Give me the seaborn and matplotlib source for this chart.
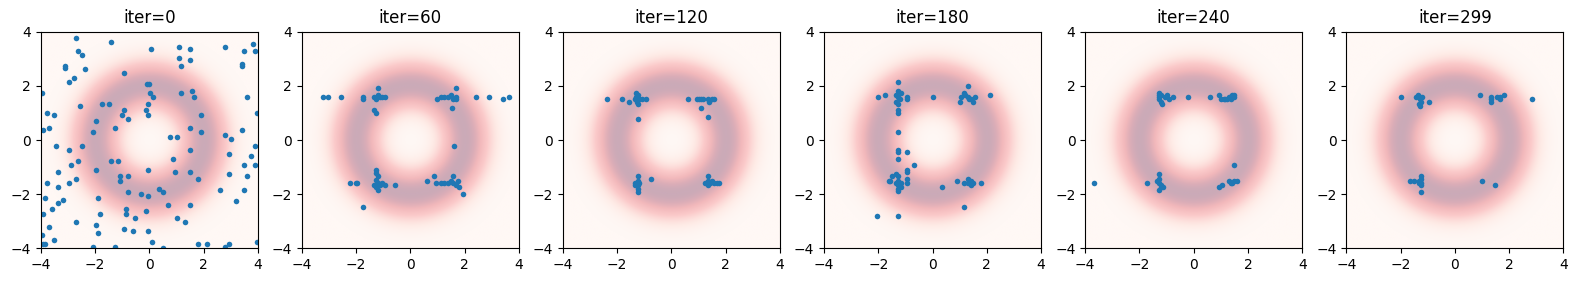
import matplotlib
matplotlib.use("Agg")
import matplotlib.pyplot as plt
from matplotlib.colors import LinearSegmentedColormap
import seaborn as sns
import numpy as np
import pandas as pd

# particle positions
iters = [0, 60, 120, 180, 240, 299]

x_0 = [-2.70, -1.41, 0.06, -2.62, -2.46, -3.10, -3.10, -2.38, -2.78, -2.94,
       -0.93, -3.94, -0.09, -0.02, 0.04, 0.13, -1.73, -1.49, -0.04, -2.55,
       -3.77, -3.52, -0.93, -1.00, -0.12, -0.03, -0.77, -1.97, -3.68, -3.92,
       -1.25, -2.06, -3.45, -2.46, -2.94, -2.87, -2.62, -1.41, -1.16, -3.35,
       -1.98, -1.09, -1.09, -0.77, -0.03, -3.75, -2.94, -2.70, -3.35, -0.77,
       -0.29, -0.04, -3.83, -1.90, -3.35, -3.19, -3.59, -1.81, -0.85, -0.85,
       -0.13, -0.52, -3.93, -3.68, -2.71, -1.97, -1.90, -0.93, -0.61, -0.03,
       -3.51, -3.96, -3.90, -3.83, -2.06, -1.25, 0.12, 0.52, 0.36, 0.52,
       0.69, 1.01, 1.33, 1.81, 2.14, 2.78, 2.95, 3.97, 2.62, 3.18,
       3.51, 1.49, 1.49, 1.81, 0.94, 0.87, 1.49, 2.95, 2.95, 3.59,
       3.51, 3.75, 3.91, 3.91, 0.77, 1.01, 1.49, 1.90, 2.78, 3.03,
       3.43, 1.90, 3.99, 3.59, 1.58, 1.65, 1.17, 1.17, 1.09, 1.49,
       1.09, 1.49, 2.78, 3.43, 3.43, 3.51, 3.84, 3.91]
y_0 = [3.78, 3.62, 3.36, 3.29, 3.13, 2.72, 2.65, 2.63, 2.30, 2.15,
       2.47, 1.75, 2.07, 2.07, 1.75, 1.58, 1.34, 1.34, 1.34, 1.24,
       1.01, 0.92, 1.10, 0.94, 1.10, 0.92, 0.78, 0.69, 0.46, 0.36,
       0.46, 0.28, -0.21, -0.21, -0.37, -0.94, -0.78, -0.78, -0.78, -1.18,
       -1.10, -1.33, -1.50, -1.34, -1.10, -1.59, -1.59, -1.43, -1.75, -1.92,
       -1.99, -2.07, -2.15, -2.15, -2.31, -2.23, -2.56, -2.72, -2.56, -2.72,
       -2.63, -2.88, -2.72, -3.20, -3.04, -3.13, -3.45, -3.29, -3.36, -3.36,
       -3.68, -3.52, -3.85, -3.85, -3.94, -3.94, -3.77, -4.00, -1.82, -1.91,
       -2.39, -2.88, -3.04, -3.85, -3.85, -3.94, -3.85, -3.77, -1.83, -2.24,
       -1.83, -2.39, -1.18, -1.43, -1.18, -0.70, -0.37, -0.53, -1.26, -1.34,
       -0.94, -0.60, -0.21, -0.94, 0.11, 0.11, 0.46, 0.28, 0.20, 0.04,
       0.37, 0.92, 1.01, 1.58, 1.82, 1.58, 1.75, 2.72, 3.04, 2.95,
       3.45, 3.36, 3.45, 2.79, 2.72, 3.29, 3.53, 3.29]

x_60 = [-3.21, -3.02, -2.56, -1.73, -1.73, -1.35, -1.27, -1.20, -1.12, -1.04,
        -0.95, -1.20, -1.35, -1.27, 1.00, 1.12, 1.25, 1.37, 1.49, 1.56,
        1.68, 1.68, 1.68, 1.52, 2.42, 2.91, 3.41, 3.63, 1.62, -2.23,
        -2.02, -1.96, -1.73, -1.25, -1.25, -1.20, -1.28, -1.20, -1.35, -1.12,
        -1.04, -0.95, -1.20, -1.27, -0.58, 0.63, 0.88, 0.96, 1.12, 1.25,
        1.37, 1.49, 1.59, 1.59, 1.68, 1.74, 1.80, 1.93]
y_60 = [1.58, 1.58, 1.58, 1.58, 1.50, 1.58, 1.50, 1.66, 1.58, 1.58,
        1.58, 1.91, 1.10, 1.01, 1.50, 1.58, 1.58, 1.58, 1.66, 1.50,
        1.91, 1.58, 1.50, 1.17, 1.58, 1.58, 1.50, 1.58, -0.21, -1.59,
        -1.59, -1.59, -2.49, -1.10, -1.22, -1.34, -1.47, -1.57, -1.65, -1.65,
        -1.57, -1.65, -1.84, -1.75, -1.67, -1.50, -1.34, -1.59, -1.59, -1.59,
        -1.59, -1.50, -1.34, -1.59, -1.67, -1.50, -1.75, -1.99]

x_120 = [-2.38, -1.83, -1.58, -1.30, -1.30, -1.28, -1.25, -1.34, -1.18, -1.09,
         -0.93, -1.25, -1.25, 0.61, 0.93, 1.02, 1.09, 1.18, 1.33, 1.40,
         1.48, 1.57, 1.09, 1.34, -1.25, -1.25, -1.34, -1.25, -1.18, -1.25,
         -1.25, -0.76, -1.34, 1.34, 1.34, 1.25, 1.42, 1.48, 1.34, 1.57,
         1.77, 1.67]
y_120 = [1.50, 1.50, 1.42, 1.75, 1.58, 1.42, 1.66, 1.50, 1.50, 1.50,
         1.50, 1.34, 0.78, 1.50, 1.50, 1.50, 1.50, 1.50, 1.50, 1.42,
         1.50, 1.50, 1.17, 0.85, -1.34, -1.50, -1.59, -1.67, -1.59, -1.82,
         -1.92, -1.43, -1.67, -1.34, -1.50, -1.59, -1.59, -1.50, -1.67, -1.59,
         -1.59, -1.59]

x_180 = [-2.00, -1.76, -1.27, -1.27, -1.33, -1.27, -1.21, -1.33, -1.27, -1.18,
         -1.27, -1.27, -0.96, -0.96, 0.02, 1.00, 1.06, 1.15, 1.18, 1.32,
         1.32, 1.40, 1.49, 1.55, 1.34, 2.13, -1.27, -1.27, -1.27, -1.27,
         -0.95, -0.70, -0.95, -0.95, -1.50, -1.58, -1.60, -1.35, -1.27, -1.27,
         -1.35, -1.27, -1.18, -1.27, -1.27, -1.18, -0.95, -0.95, -2.06, -1.27,
         0.35, 0.91, 1.15, 1.32, 1.32, 1.40, 1.40, 1.49, 1.80, 1.16]
y_180 = [1.58, 1.66, 2.15, 1.82, 1.66, 1.58, 1.50, 1.42, 1.34, 1.75,
         1.10, 1.01, 1.58, 1.50, 1.58, 1.42, 1.58, 1.75, 1.66, 1.99,
         1.58, 1.50, 1.42, 1.58, 1.50, 1.66, 0.28, -0.37, -0.46, -0.69,
         -0.46, -0.94, -1.10, -1.18, -1.34, -1.50, -1.50, -1.26, -1.34, -1.50,
         -1.59, -1.67, -1.59, -1.82, -1.90, -1.75, -1.43, -1.59, -2.81, -2.81,
         -1.75, -1.50, -1.59, -1.43, -1.59, -1.50, -1.67, -1.59, -1.59, -2.49]

x_240 = [-1.28, -1.28, -1.28, -1.28, -1.22, -1.16, -1.22, -1.07, -1.00, -0.91,
         -0.75, -0.20, 0.61, 0.94, 0.99, 1.11, 1.23, 1.31, 1.39, 1.42,
         1.48, 1.48, 1.17, 1.50, -3.67, -1.73, -1.28, -1.28, -1.34, -1.28,
         -1.22, -1.28, -1.19, -1.12, 0.94, 1.06, 1.31, 1.39, 1.48, 1.60,
         1.43]
y_240 = [1.75, 1.66, 1.58, 1.50, 1.42, 1.34, 1.66, 1.58, 1.66, 1.50,
         1.58, 1.58, 1.58, 1.66, 1.50, 1.50, 1.50, 1.58, 1.50, 1.66,
         1.58, 1.66, 1.50, -0.94, -1.59, -1.59, -1.26, -1.43, -1.50, -1.59,
         -1.67, -1.83, -1.75, -1.75, -1.75, -1.67, -1.50, -1.59, -1.50, -1.50,
         -1.59]

x_299 = [-2.00, -1.44, -1.37, -1.30, -1.21, -1.26, -1.33, -1.27, -1.27, -0.94,
         0.94, 1.33, 1.33, 1.33, 1.57, 1.65, 1.65, 1.82, 2.86, -1.66,
         -1.51, -1.24, -1.24, -1.24, -1.33, -1.24, -1.24, -1.33, 1.00, 1.49]
y_299 = [1.58, 1.58, 1.66, 1.58, 1.58, 1.42, 1.34, 1.26, 1.50, 1.42,
         1.66, 1.58, 1.50, 1.42, 1.58, 1.50, 1.58, 1.66, 1.50, -1.50,
         -1.50, -1.34, -1.43, -1.59, -1.50, -1.67, -1.91, -1.59, -1.50, -1.67]

xs = [x_0, x_60, x_120, x_180, x_240, x_299]
ys = [y_0, y_60, y_120, y_180, y_240, y_299]

# target density: ring of radius 2
ring_radius = 2.0
ring_width = 0.6

grid = np.linspace(-4, 4, 300)
gx, gy = np.meshgrid(grid, grid)
r = np.sqrt(gx ** 2 + gy ** 2)
density = np.exp(-0.5 * ((r - ring_radius) / ring_width) ** 2)

ring_cmap = LinearSegmentedColormap.from_list(
    "ring",
    [(0.0, "#fff8f5"), (0.15, "#feeae5"), (0.4, "#fbcaca"),
     (0.65, "#f2b8bb"), (0.85, "#dbadb7"), (1.0, "#cbaab8")],
)

fig, axes = plt.subplots(1, 6, figsize=(15.78, 2.83), dpi=100)
fig.subplots_adjust(left=0.0258, right=0.9907, top=0.888, bottom=0.1226, wspace=0.203)

for ax, it, x, y in zip(axes, iters, xs, ys):
    ax.imshow(density, extent=(-4, 4, -4, 4), origin="lower", cmap=ring_cmap,
              interpolation="bilinear", aspect="auto")
    df = pd.DataFrame({"x": x, "y": y})
    sns.scatterplot(data=df, x="x", y="y", ax=ax, s=16, color="#1f77b4",
                    linewidth=0, legend=False)
    ax.set_xlim(-4, 4)
    ax.set_ylim(-4, 4)
    ax.set_xticks([-4, -2, 0, 2, 4])
    ax.set_yticks([-4, -2, 0, 2, 4])
    ax.set_xlabel("")
    ax.set_ylabel("")
    ax.set_title(f"iter={it}")

fig.savefig("out.png", dpi=100)
